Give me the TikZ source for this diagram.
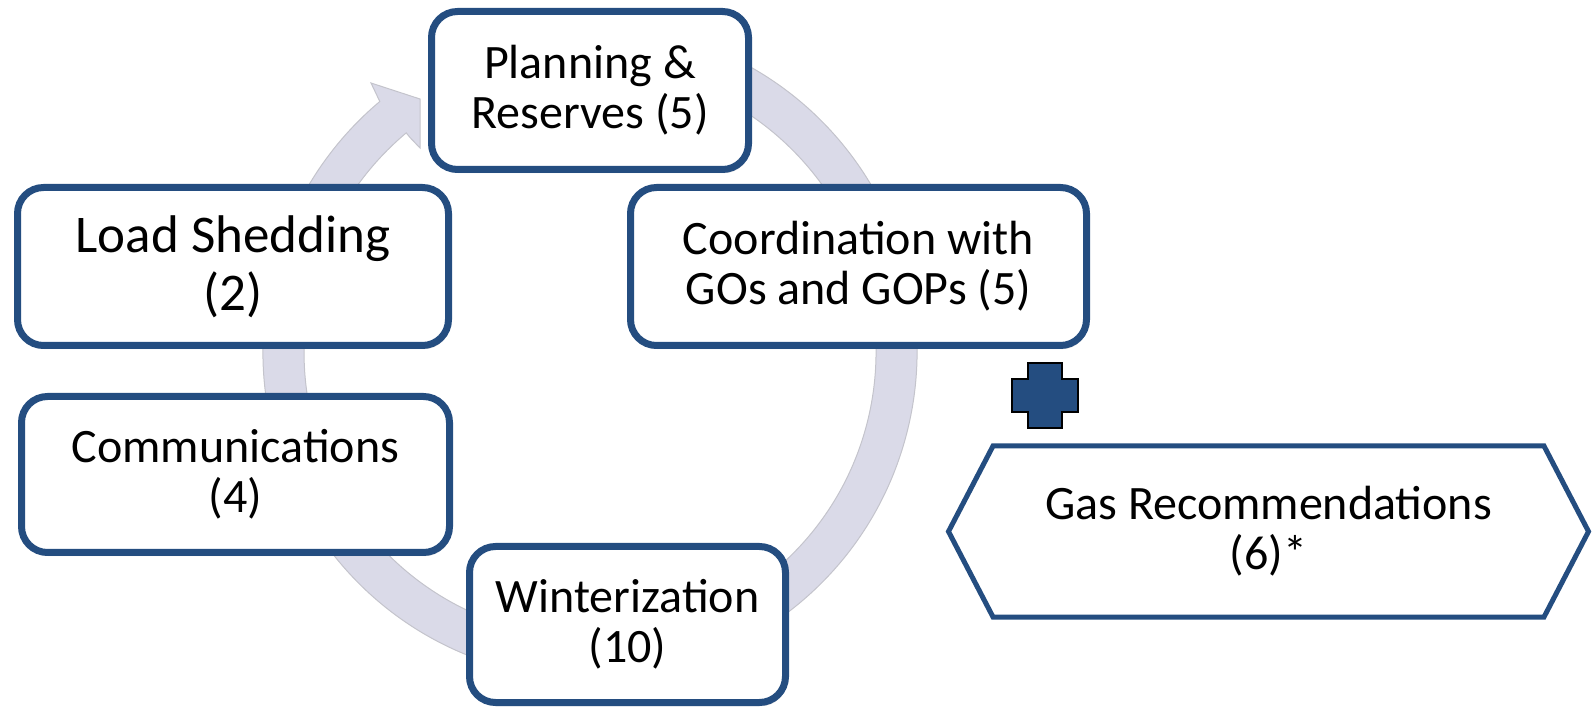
\documentclass[tikz,border=0pt]{standalone}
\usepackage{fontspec}
\setmainfont{Carlito}
\usetikzlibrary{positioning,shadows,shapes.symbols}

\definecolor{boxblue}{RGB}{36,77,128}
\definecolor{ringfill}{RGB}{218,218,232}
\definecolor{ringline}{RGB}{196,196,204}

\tikzset{
	topic/.style={draw=boxblue, line width=3.5pt, fill=white, rounded corners=13pt,
		align=center, font=\fontsize{24}{25}\selectfont, inner sep=0pt,
		drop shadow={shadow xshift=0.8pt, shadow yshift=-1.8pt, opacity=0.25}},
	gasbox/.style={draw=boxblue, line width=2.5pt, fill=white, shape=signal,
		signal to=west and east, signal pointer angle=125, align=center,
		font=\fontsize{24}{25}\selectfont, inner sep=0pt},
}

\begin{document}
\begin{tikzpicture}[x=0.5pt, y=0.5pt, node distance=10pt, on grid]
				\useasboundingbox (0,0) rectangle (1595,707);
				% cycle arrow behind the boxes
				\filldraw[fill=ringfill, draw=ringline, line width=0.5pt]
					(590,355) ++(75:327) arc[start angle=75, end angle=-230, radius=327]
					-- (371,624) -- (420,608) -- (420,559) -- (410,569.5)
					-- (406.2,574.1) arc[start angle=130, end angle=435, radius=286] -- cycle;
				\node[topic, minimum width=158.5pt, minimum height=79pt] (plan) at (590,616.5) {Planning \&\\Reserves (5)};
				\node[topic, minimum width=215.5pt, minimum height=79pt, below left=88pt and 178.5pt of plan,
					font=\fontsize{26.5}{29}\selectfont] (shed) {Load Shedding\\(2)};
				\node[topic, minimum width=228pt, minimum height=79pt, below right=88pt and 134.25pt of plan] (coord) {Coordination with\\GOs and GOPs (5)};
				\node[topic, minimum width=214pt, minimum height=78pt, below right=104pt and 1.25pt of shed] (comm) {Communications\\(4)};
				\node[topic, minimum width=158pt, minimum height=78pt, below right=267pt and 18.75pt of plan] (wint) {Winterization\\(10)};
				% plus sign
				\filldraw[fill=boxblue, draw=black, line width=1pt]
					(1028,344) -- (1062,344) -- (1062,328) -- (1078,328) -- (1078,295) -- (1062,295)
					-- (1062,279) -- (1028,279) -- (1028,295) -- (1012,295) -- (1012,328) -- (1028,328) -- cycle;
				\node[gasbox, minimum width=320pt, minimum height=85.5pt, below right=132.5pt and 205pt of coord] (gas) {Gas Recommendations\\(6)*};
\end{tikzpicture}
\end{document}
